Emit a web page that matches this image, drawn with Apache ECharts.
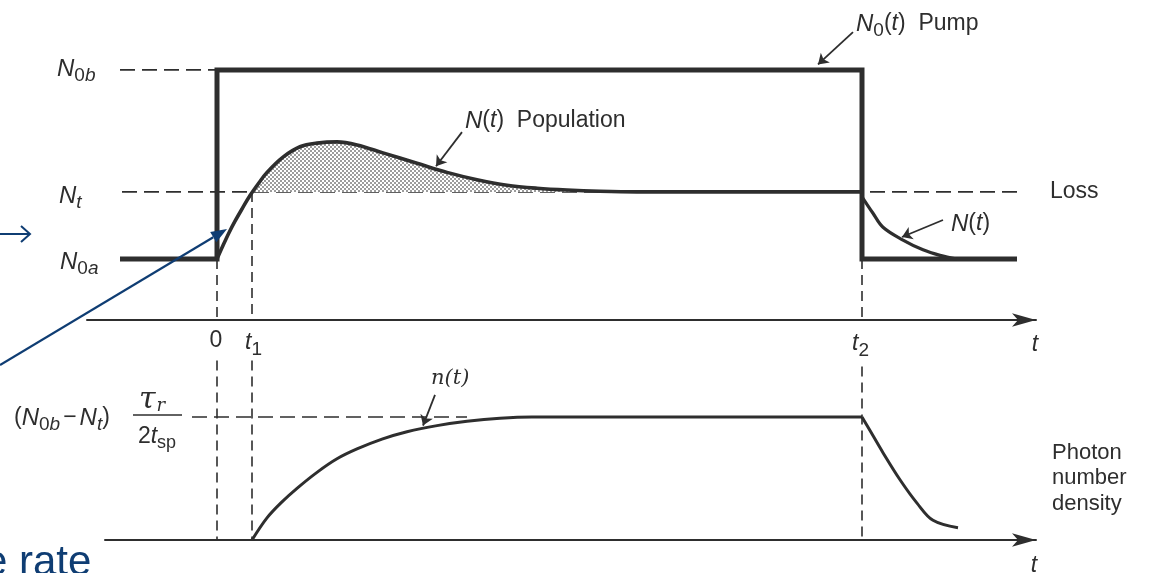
<!DOCTYPE html>
<html>
<head>
<meta charset="utf-8">
<script src="https://cdn.jsdelivr.net/npm/echarts@6/dist/echarts.min.js"></script>
<style>
  html, body { margin: 0; padding: 0; background: #ffffff; }
  #chart { width: 1151px; height: 573px; }
</style>
</head>
<body>
<div id="chart"></div>
<script>
// Characteristic instants (arbitrary time units)
const T_ON = 0;
const T_1 = 3.5;
const T_2 = 64.5;

// Pump levels and threshold (loss) level, arbitrary population units
const N0A = 1.0;
const N_T = 2.1;
const N0B = 4.1;

// Pump N0(t): rectangular pulse between T_ON and T_2
const pumpT = [-9.7, 0, 0, 64.5, 64.5, 80];
const pumpN = [1.0, 1.0, 4.1, 4.1, 1.0, 1.0];

// Population N(t) while the pump is on: overshoot, then clamped at threshold
const popRiseT = [0, 0.6, 1.2, 1.8, 2.5, 3.3, 4.2, 5, 6.6, 8.3, 10, 12, 14, 16.6, 20, 23, 26, 29, 32, 35, 38.3, 42, 64.5];
const popRiseN = [1.0, 1.22, 1.43, 1.62, 1.82, 2.04, 2.25, 2.42, 2.67, 2.84, 2.9, 2.92, 2.87, 2.74, 2.57, 2.42, 2.3, 2.21, 2.16, 2.13, 2.11, 2.1, 2.1];

// Population N(t) after the pump is switched off
const popFallT = [64.5, 65.6, 66.6, 68.6, 70.6, 72.3, 74];
const popFallN = [2.02, 1.75, 1.52, 1.31, 1.15, 1.06, 1.0];

// Photon number density n(t), in units of its steady-state value
const PHOTON_SS = 1.0;
const photonRiseT = [3.5, 5, 6.5, 8, 10, 12, 14, 16.5, 19, 22, 25, 28.3, 31.5, 64.5];
const photonRiseN = [0, 0.18, 0.31, 0.42, 0.55, 0.66, 0.74, 0.82, 0.88, 0.93, 0.965, 0.99, 1.0, 1.0];
const photonFallT = [64.5, 65.3, 66.6, 68.3, 70, 71.6, 74.1];
const photonFallN = [1.0, 0.89, 0.71, 0.49, 0.3, 0.16, 0.1];

const INK = '#2e2e2e';
const BLUE = '#0f3d73';
const SANS = '"Liberation Sans", Arial, sans-serif';
const SERIF = '"DejaVu Serif", "Liberation Serif", serif';

// Upper panel geometry: population axis 0..5 over 305 px
const TOP_Y = 15, TOP_H = 305, TOP_MAX = 5;

// Stippled fill for the population overshoot above threshold
function stipple() {
  const c = document.createElement('canvas');
  c.width = 4; c.height = 4;
  const g = c.getContext('2d');
  g.fillStyle = '#ffffff';
  g.fillRect(0, 0, 4, 4);
  g.fillStyle = '#9c9c9c';
  g.fillRect(0, 0, 2, 2);
  g.fillRect(2, 2, 2, 2);
  return c;
}

const zip = (xs, ys) => xs.map((x, i) => [x, ys[i]]);

function dashed(data, axis, dash) {
  return {
    type: 'line', data, xAxisIndex: axis, yAxisIndex: axis,
    symbol: 'none', silent: true, z: 1, clip: false,
    lineStyle: { color: INK, width: 1.6, type: dash }
  };
}
function solid(data, axis, width, smooth) {
  return {
    type: 'line', data, xAxisIndex: axis, yAxisIndex: axis,
    symbol: 'none', silent: true, z: 3, smooth: smooth, clip: false,
    lineStyle: { color: INK, width, join: 'miter', cap: 'butt' }
  };
}
function pointer(coords, axis) {
  return {
    type: 'lines', coordinateSystem: 'cartesian2d', xAxisIndex: axis, yAxisIndex: axis,
    symbol: ['none', 'arrow'], symbolSize: 10, silent: true, z: 5,
    lineStyle: { color: INK, width: 1.8, opacity: 1 },
    data: coords.map(c => ({ coords: c }))
  };
}

const HD = [15, 7];   // horizontal dash pattern
const VD = [10, 6];   // vertical dash pattern

const axisX = (g, min, shown) => ({
  type: 'value', gridIndex: g, min, max: 81.9, show: shown,
  axisLine: { show: true, onZero: false, symbol: ['none', 'arrow'], symbolSize: [10, 24],
              lineStyle: { color: INK, width: 2 } },
  axisTick: { show: false }, axisLabel: { show: false }, splitLine: { show: false }
});
const axisY = (g, min, max) => ({
  type: 'value', gridIndex: g, min, max, show: false, splitLine: { show: false }
});

const rich = {
  N:    { fontFamily: SANS, fontStyle: 'italic', fontSize: 24, color: INK },
  u:    { fontFamily: SANS, fontSize: 23, color: INK },
  it:   { fontFamily: SANS, fontStyle: 'italic', fontSize: 23, color: INK },
  sub:  { fontFamily: SANS, fontSize: 19, color: INK, padding: [14, 0, 0, 0] },
  subi: { fontFamily: SANS, fontStyle: 'italic', fontSize: 19, color: INK, padding: [14, 0, 0, 0] },
  m:    { fontFamily: SANS, fontSize: 23, color: INK, padding: [0, 3, 0, 3] },
  ns:   { fontFamily: SERIF, fontStyle: 'italic', fontSize: 21, color: INK },
  tau:  { fontFamily: SERIF, fontStyle: 'italic', fontSize: 30, color: INK },
  tr:   { fontFamily: SERIF, fontStyle: 'italic', fontSize: 18, color: INK, padding: [12, 0, 0, 1] },
  ssp:  { fontFamily: SANS, fontSize: 18, color: INK, padding: [12, 0, 0, 0] },
  ph:   { fontFamily: SANS, fontSize: 22, color: INK, lineHeight: 25.5 }
};

function label(x, y, text, align) {
  return {
    type: 'text', x, y, silent: true, z: 10,
    style: { text, rich, align: align || 'left', verticalAlign: 'middle', fill: INK }
  };
}

// Slide overlay pointer: unit vector from its start toward the tip
const tip = [227, 229], tail = [0, 365];
const len = Math.hypot(tip[0] - tail[0], tip[1] - tail[1]);
const ux = (tip[0] - tail[0]) / len, uy = (tip[1] - tail[1]) / len;
const headL = 16, headW = 6;
const bc = [tip[0] - headL * ux, tip[1] - headL * uy];

const option = {
  animation: false,
  backgroundColor: '#ffffff',
  grid: [
    { left: 87, width: 949, top: TOP_Y, height: TOP_H },
    { left: 105, width: 931, top: 355.5, height: 184.5 },
    // same scale as the upper panel, but its floor sits on the threshold level
    { left: 87, width: 949, top: TOP_Y, height: TOP_H * (1 - N_T / TOP_MAX) }
  ],
  xAxis: [axisX(0, -13, true), axisX(1, -11.2, true), axisX(2, -13, false)],
  yAxis: [axisY(0, 0, TOP_MAX), axisY(1, 0, 1.5), axisY(2, N_T, TOP_MAX)],
  series: [
    // reference levels and instants (upper panel)
    dashed([[-9.5, N_T], [80, N_T]], 0, HD),
    dashed([[-9.7, N0B], [T_ON, N0B]], 0, HD),
    dashed([[T_ON, N0A], [T_ON, 0]], 0, VD),
    dashed([[T_1, N_T], [T_1, 0]], 0, VD),
    dashed([[T_2, N0A], [T_2, 0]], 0, VD),
    // overshoot above threshold, stippled
    {
      type: 'line', data: zip(popRiseT, popRiseN), xAxisIndex: 2, yAxisIndex: 2,
      symbol: 'none', silent: true, smooth: 0.35, z: 2, clip: true,
      lineStyle: { width: 0, opacity: 0 },
      areaStyle: { color: { image: stipple(), repeat: 'repeat' }, opacity: 1, origin: 'start' }
    },
    // pump and population
    solid(zip(pumpT, pumpN), 0, 5, false),
    solid(zip(popRiseT, popRiseN), 0, 3.6, 0.35),
    solid(zip(popFallT, popFallN), 0, 3.2, 0.35),
    // lower panel
    dashed([[-2.5, PHOTON_SS], [25, PHOTON_SS]], 1, HD),
    dashed([[T_ON, 1.46], [T_ON, 0]], 1, VD),
    dashed([[T_1, 1.46], [T_1, 0]], 1, VD),
    dashed([[T_2, 1.41], [T_2, 0]], 1, VD),
    solid(zip(photonRiseT, photonRiseN), 1, 3, 0.35),
    solid(zip(photonFallT, photonFallN), 1, 3, 0.35),
    // curve pointers
    pointer([[[24.5, 3.08], [21.9, 2.52]], [[63.6, 4.72], [60.1, 4.19]], [[72.6, 1.64], [68.5, 1.36]]], 0),
    pointer([[[21.8, 1.18], [20.6, 0.93]]], 1)
  ],
  graphic: [
    label(57, 69, '{N|N}{sub|0}{subi|b}'),
    label(59, 196, '{N|N}{subi|t}'),
    label(60, 262, '{N|N}{sub|0}{subi|a}'),
    label(1050, 192, '{u|Loss}'),
    label(465, 121, '{N|N}{u|(}{it|t}{u|)  Population}'),
    label(856, 24, '{N|N}{sub|0}{u|(}{it|t}{u|)  Pump}'),
    label(951, 224, '{N|N}{u|(}{it|t}{u|)}'),
    label(431, 379, '{ns|n(t)}'),
    label(216, 341, '{u|0}', 'center'),
    label(245, 343, '{it|t}{sub|1}'),
    label(852, 344, '{it|t}{sub|2}'),
    label(1035, 345, '{it|t}', 'center'),
    label(1034, 566, '{it|t}', 'center'),
    label(14, 418, '{u|(}{N|N}{sub|0}{subi|b}{m|−}{N|N}{subi|t}{u|)}'),
    label(152, 400, '{tau|τ}{tr|r}', 'center'),
    label(157, 437, '{u|2}{it|t}{ssp|sp}', 'center'),
    label(1052, 478, '{ph|Photon}\n{ph|number}\n{ph|density}'),
    {
      type: 'line', silent: true, z: 10,
      shape: { x1: 133, y1: 415, x2: 182, y2: 415 },
      style: { stroke: INK, lineWidth: 1.5 }
    },
    // slide overlay in blue
    {
      type: 'polyline', silent: true, z: 20,
      shape: { points: [[0, 234], [29, 234]] },
      style: { stroke: BLUE, lineWidth: 2, fill: null }
    },
    {
      type: 'polyline', silent: true, z: 20,
      shape: { points: [[21, 226], [30, 234], [21, 242]] },
      style: { stroke: BLUE, lineWidth: 2, fill: null }
    },
    {
      type: 'line', silent: true, z: 20,
      shape: { x1: tail[0], y1: tail[1], x2: bc[0], y2: bc[1] },
      style: { stroke: BLUE, lineWidth: 2.2 }
    },
    {
      type: 'polygon', silent: true, z: 20,
      shape: { points: [tip, [bc[0] + headW * -uy, bc[1] + headW * ux], [bc[0] - headW * -uy, bc[1] - headW * ux]] },
      style: { fill: BLUE }
    },
    {
      type: 'text', x: -16, y: 563, silent: true, z: 20,
      style: { text: 'e rate', fill: BLUE, fontFamily: SANS, fontSize: 42, align: 'left', verticalAlign: 'middle' }
    }
  ]
};

const chart = echarts.init(document.getElementById('chart'), null, { renderer: 'canvas' });
chart.setOption(option);
</script>
</body>
</html>
